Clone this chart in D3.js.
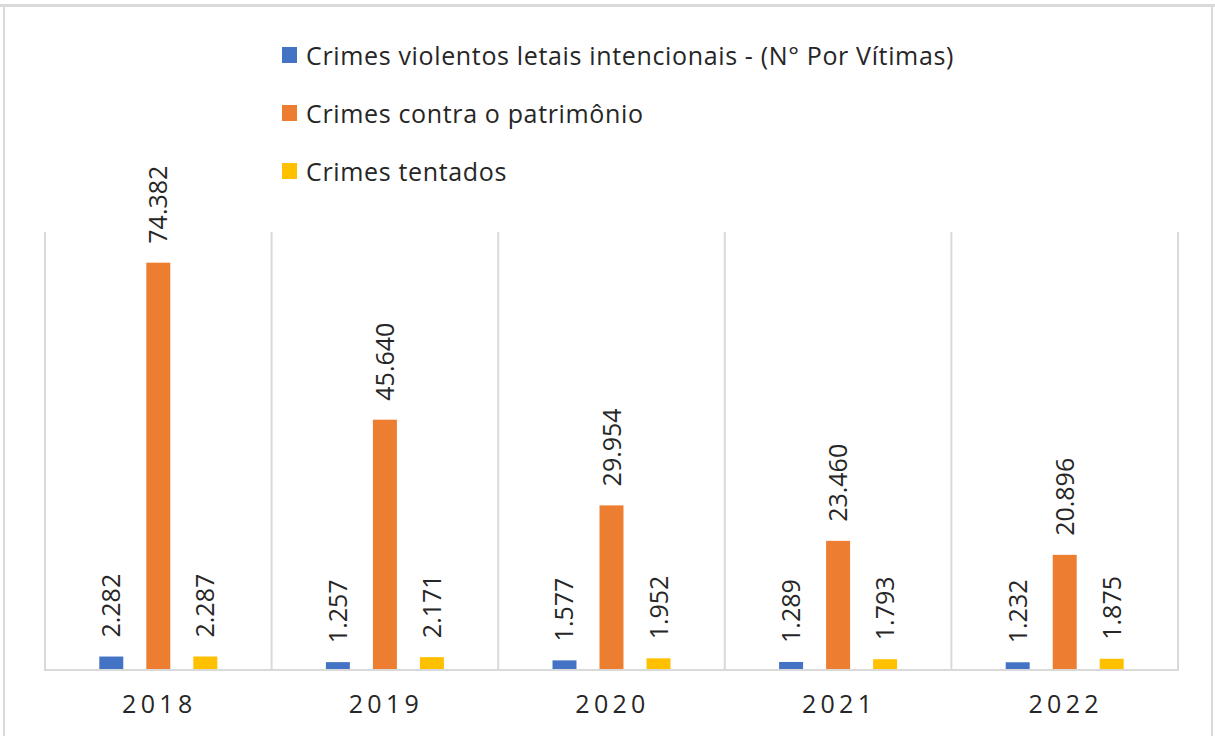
<!DOCTYPE html>
<html><head><meta charset="utf-8">
<script src="https://cdn.jsdelivr.net/npm/d3@7"></script>
<style>body{margin:0;background:#fff;}svg{display:block;}</style>
</head><body>
<script>
const years = ["2018","2019","2020","2021","2022"];
const seriesNames = ["Crimes violentos letais intencionais - (N° Por Vítimas)","Crimes contra o patrimônio","Crimes tentados"];
const cvli = [2282,1257,1577,1289,1232];
const patrimonio = [74382,45640,29954,23460,20896];
const tentados = [2287,2171,1952,1793,1875];
const colors = ["#4472C4","#ED7D31","#FFC000"];
const series = [cvli, patrimonio, tentados];
const fmt = v => d3.format(",")(v).replace(/,/g,".");

const W=1215,H=736;
const svg=d3.select("body").append("svg").attr("width",W).attr("height",H);
svg.append("rect").attr("x",4).attr("y",6).attr("width",1208).attr("height",740)
  .attr("fill","#fff").attr("stroke","#d9d9d9").attr("stroke-width",2);
svg.append("rect").attr("x",0).attr("y",4).attr("width",W).attr("height",3).attr("fill","#d9d9d9");

const pL=45,pR=1178,pT=232,pB=669;
const x=d3.scaleBand().domain(years).range([pL,pR]);
const y=d3.scaleLinear().domain([0,80000]).range([pB,pT]);
const xs=d3.scaleBand().domain([0,1,2]).range([x.bandwidth()/2-59,x.bandwidth()/2+59]).paddingInner(0.49);

const bounds=years.map(d=>x(d)).concat([pR]);
svg.append("g").selectAll("line").data(bounds).join("line")
  .attr("x1",d=>d).attr("x2",d=>d).attr("y1",pT).attr("y2",pB)
  .attr("stroke","#d9d9d9").attr("stroke-width",2);
svg.append("line").attr("x1",pL-1).attr("x2",pR+1).attr("y1",pB+1).attr("y2",pB+1)
  .attr("stroke","#d9d9d9").attr("stroke-width",2);

const g=svg.append("g").selectAll("g").data(years).join("g").attr("transform",d=>`translate(${x(d)},0)`);
series.forEach((s,si)=>{
  g.append("rect").attr("x",xs(si)).attr("width",xs.bandwidth())
    .attr("y",(d,i)=>y(s[i])).attr("height",(d,i)=>pB-y(s[i])).attr("fill",colors[si]);
  g.append("text").attr("transform",(d,i)=>`translate(${xs(si)+xs.bandwidth()/2+9},${y(s[i])-19}) rotate(-90)`)
    .attr("font-family","Open Sans, sans-serif").attr("font-size",25).attr("fill","#262626")
    .text((d,i)=>fmt(s[i]));
});

svg.append("g").selectAll("text").data(years).join("text")
  .attr("x",d=>x(d)+x.bandwidth()/2+1).attr("y",713).attr("text-anchor","middle")
  .attr("font-family","Open Sans, sans-serif").attr("font-size",25).attr("letter-spacing",4.3)
  .attr("fill","#262626").text(d=>d);

const lg=svg.append("g").selectAll("g").data(seriesNames).join("g")
  .attr("transform",(d,i)=>`translate(282,${55+i*58})`);
lg.append("rect").attr("x",0).attr("y",-8).attr("width",15).attr("height",16).attr("fill",(d,i)=>colors[i]);
lg.append("text").attr("x",24).attr("y",10).attr("font-family","Open Sans, sans-serif").attr("font-size",25)
  .attr("fill","#262626").attr("letter-spacing",0.65).text(d=>d);
</script>
</body></html>
